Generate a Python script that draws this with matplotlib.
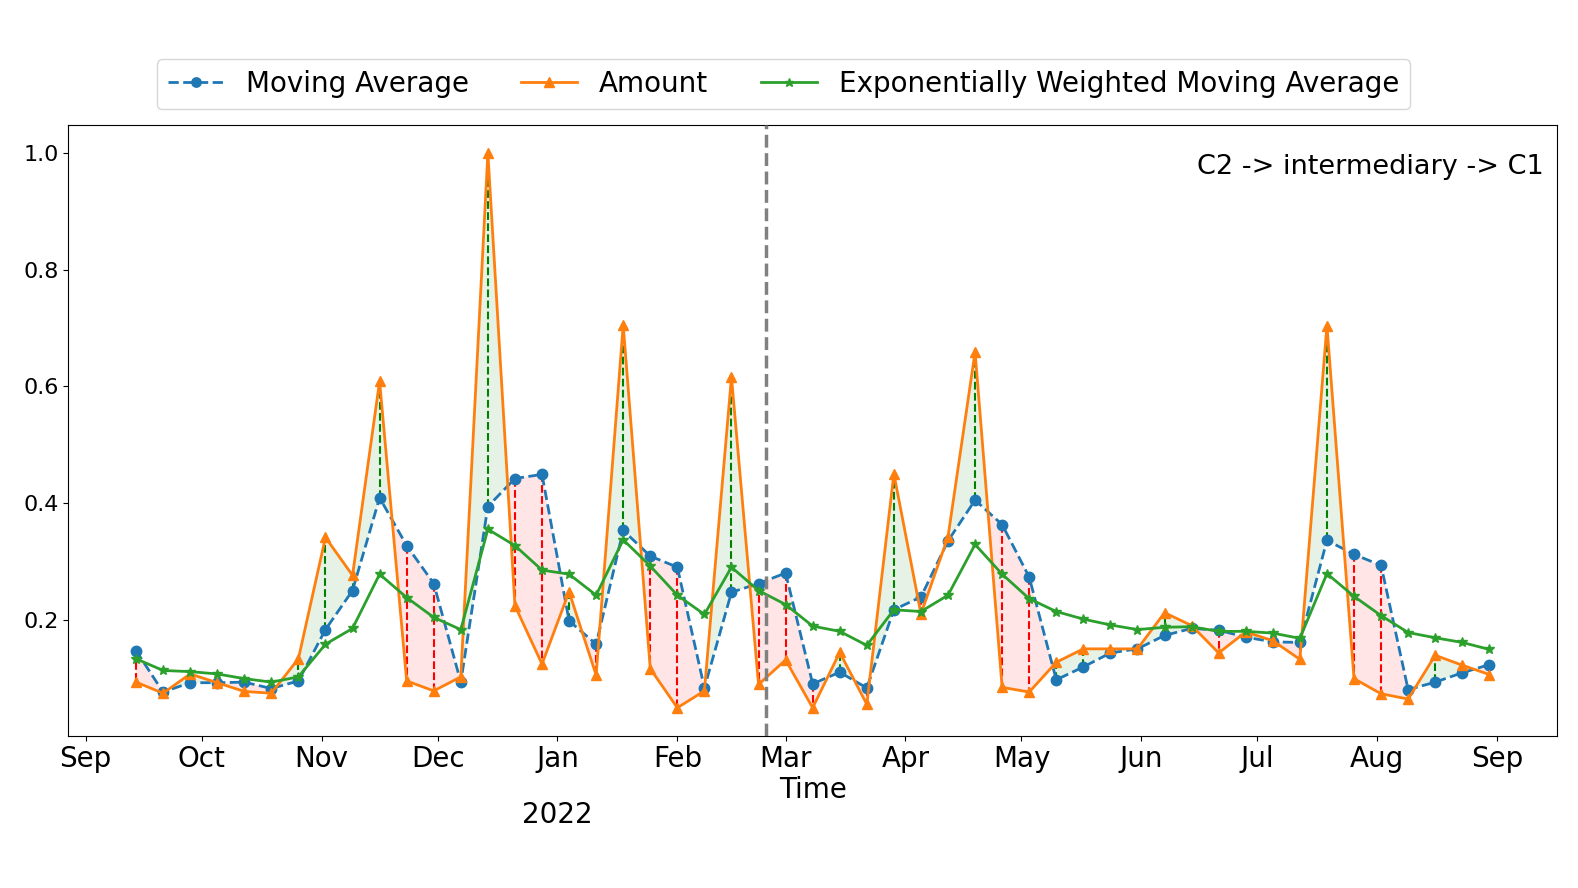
import numpy as np
import pandas as pd
import matplotlib
matplotlib.use("Agg")
import matplotlib.pyplot as plt
import matplotlib.dates as mdates
import matplotlib.transforms as mtransforms

# weekly values
dates = pd.date_range("2021-09-14", periods=51, freq="7D")

moving_avg = [0.147, 0.076, 0.092, 0.092, 0.093, 0.082, 0.095, 0.183, 0.250, 0.409,
              0.327, 0.262, 0.093, 0.394, 0.442, 0.449, 0.198, 0.158, 0.353, 0.309,
              0.290, 0.083, 0.247, 0.262, 0.280, 0.090, 0.110, 0.083, 0.217, 0.239,
              0.335, 0.405, 0.363, 0.273, 0.097, 0.119, 0.143, 0.150, 0.173, 0.185,
              0.182, 0.170, 0.162, 0.161, 0.336, 0.312, 0.293, 0.080, 0.093, 0.109, 0.123]

amount = [0.093, 0.074, 0.107, 0.092, 0.077, 0.074, 0.133, 0.341, 0.276, 0.609,
          0.095, 0.078, 0.102, 1.000, 0.224, 0.124, 0.248, 0.105, 0.705, 0.116,
          0.049, 0.078, 0.616, 0.089, 0.131, 0.049, 0.144, 0.055, 0.450, 0.210,
          0.342, 0.659, 0.084, 0.076, 0.127, 0.150, 0.150, 0.150, 0.212, 0.190,
          0.143, 0.179, 0.164, 0.132, 0.704, 0.099, 0.073, 0.064, 0.139, 0.122, 0.106]

ewma = [0.133, 0.113, 0.111, 0.107, 0.099, 0.093, 0.102, 0.158, 0.185, 0.278,
        0.238, 0.204, 0.183, 0.355, 0.327, 0.285, 0.278, 0.242, 0.337, 0.292,
        0.242, 0.209, 0.290, 0.250, 0.226, 0.189, 0.180, 0.156, 0.217, 0.214,
        0.242, 0.329, 0.278, 0.236, 0.214, 0.201, 0.191, 0.183, 0.187, 0.188,
        0.180, 0.180, 0.177, 0.168, 0.279, 0.240, 0.207, 0.178, 0.169, 0.161, 0.149]

event_date = pd.Timestamp("2022-02-24")
title_text = "C2 -> intermediary -> C1"

ma = np.array(moving_avg)
am = np.array(amount)

fig = plt.figure(figsize=(15.78, 8.88), dpi=100)
ax = fig.add_axes([0.0433, 0.1717, 0.9434, 0.6873])

ax.fill_between(dates, ma, am, where=am >= ma, interpolate=True,
                color="green", alpha=0.1, linewidth=0, zorder=1)
ax.fill_between(dates, ma, am, where=am < ma, interpolate=True,
                color="red", alpha=0.1, linewidth=0, zorder=1)

for d, m, a in zip(dates, ma, am):
    c = "green" if a >= m else "red"
    ax.plot([d, d], [m, a], color=c, linestyle="--", linewidth=1.5, zorder=1.5)

ax.plot(dates, moving_avg, "o--", color="C0", linewidth=2, markersize=7.5,
        label="Moving Average", zorder=2)
ax.plot(dates, amount, "^-", color="C1", linewidth=2, markersize=7.5,
        label="Amount", zorder=2)
ax.plot(dates, ewma, "*-", color="C2", linewidth=2, markersize=7,
        label="Exponentially Weighted Moving Average", zorder=2)

ax.axvline(event_date, color="gray", linestyle="--", linewidth=2.5, zorder=3)

ax.xaxis.set_major_locator(mdates.MonthLocator())
ax.xaxis.set_major_formatter(mdates.DateFormatter("%b"))
ax.tick_params(axis="x", labelsize=20)
ax.tick_params(axis="y", labelsize=16)
ax.set_yticks([0.2, 0.4, 0.6, 0.8, 1.0])
ax.set_xlabel("Time", fontsize=20, labelpad=2)

# year under the January tick
trans = mtransforms.blended_transform_factory(ax.transData, ax.transAxes)
ax.text(mdates.date2num(pd.Timestamp("2022-01-01")), -0.130, "2022",
        transform=trans, ha="center", va="center", fontsize=20)

ax.text(0.991, 0.932, title_text, transform=ax.transAxes,
        ha="right", va="center", fontsize=19.5)

fig.legend(loc="center", bbox_to_anchor=(0.4966, 0.9052), ncol=3,
           fontsize=20, markerscale=0.9, columnspacing=1.9)

fig.savefig("out.png", dpi=100)
